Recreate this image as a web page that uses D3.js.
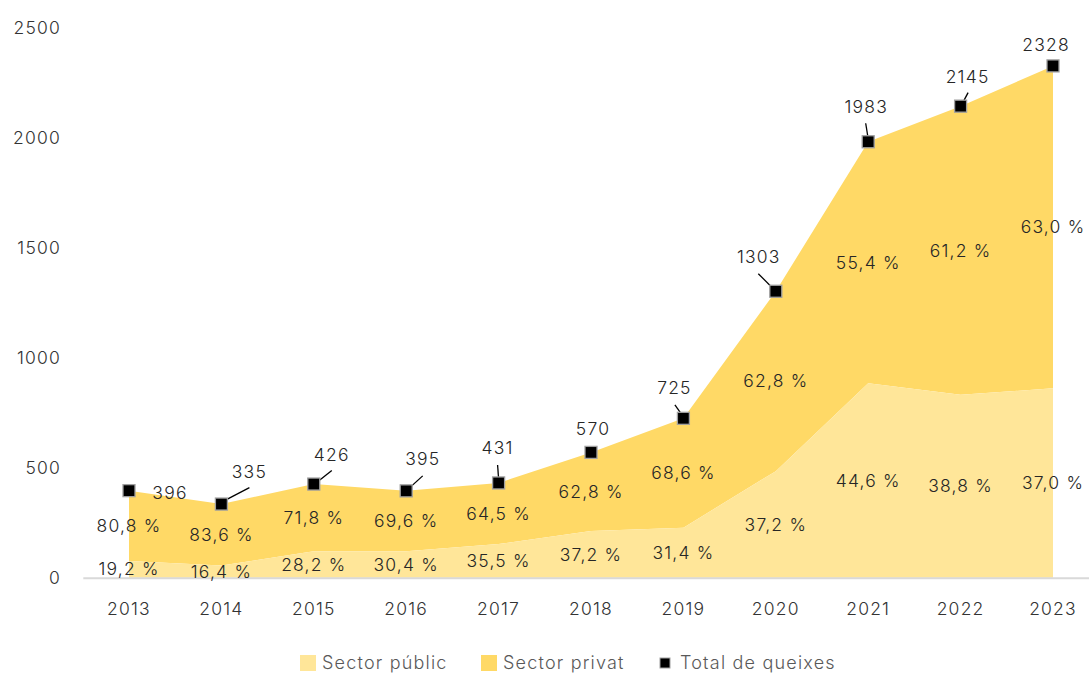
<!DOCTYPE html>
<html>
<head>
<meta charset="utf-8">
<script src="https://cdn.jsdelivr.net/npm/d3@7"></script>
<style>
  body { margin: 0; background: #fff; }
  text { font-family: Inter, "Liberation Sans", sans-serif; font-weight: 300; letter-spacing: 1.2px; }
</style>
</head>
<body>
<svg id="chart" width="1089" height="673"></svg>
<script>
const years = ["2013","2014","2015","2016","2017","2018","2019","2020","2021","2022","2023"];
const totals = [396, 335, 426, 395, 431, 570, 725, 1303, 1983, 2145, 2328];
const publicPct = [19.2, 16.4, 28.2, 30.4, 35.5, 37.2, 31.4, 37.2, 44.6, 38.8, 37.0];
const privatePct = [80.8, 83.6, 71.8, 69.6, 64.5, 62.8, 68.6, 62.8, 55.4, 61.2, 63.0];
const yTicks = [0, 500, 1000, 1500, 2000, 2500];

// where each total label sits relative to its marker, plus optional leader line
const totalLabelPos = [
  {dx: 41, dy: 8},
  {dx: 28, dy: -26, line: [5, -4.5, 28, -16.5]},
  {dx: 18, dy: -23, line: [6, -4, 18, -13.5]},
  {dx: 16.5, dy: -25.5, line: [5.5, -5, 16.5, -15]},
  {dx: -1, dy: -28.5, line: [-1, -18, 0, -4]},
  {dx: 2, dy: -17},
  {dx: -9, dy: -24, line: [-8.5, -13.5, -2.5, -5]},
  {dx: -17, dy: -28.5, line: [-17.5, -17.5, -4.5, -4.5]},
  {dx: -2, dy: -29, line: [-2.5, -18.5, -0.5, -6]},
  {dx: 7, dy: -23.5, line: [7.5, -13.5, 3.5, -6]},
  {dx: -7, dy: -14.5}
];

const colPublic = "#ffe699";
const colPrivat = "#ffd966";
const fontSize = 17.5;

const svg = d3.select("#chart");
const data = years.map((y, i) => ({
  year: y,
  total: totals[i],
  pub: totals[i] * publicPct[i] / 100,
  pubPct: publicPct[i],
  privPct: privatePct[i]
}));

const xBand = d3.scaleBand().domain(years).range([82.8, 1099.2]).padding(0);
const x = d => xBand(d) + xBand.bandwidth() / 2;
const y = d3.scaleLinear().domain([0, 2500]).range([577.7, 28.1]);

const locale = d3.formatLocale({decimal: ",", thousands: ".", grouping: [3], currency: ["", "€"]});
const pctFmt = v => locale.format(".1f")(v) + " %";

// areas
svg.append("path").datum(data)
  .attr("fill", colPrivat)
  .attr("d", d3.area().x(d => x(d.year)).y0(d => y(d.pub)).y1(d => y(d.total)));
svg.append("path").datum(data)
  .attr("fill", colPublic)
  .attr("d", d3.area().x(d => x(d.year)).y0(y(0)).y1(d => y(d.pub)));

// x axis
const xAxis = svg.append("g")
  .attr("transform", `translate(0,${y(0)})`)
  .call(d3.axisBottom(xBand).tickSize(0).tickSizeOuter(0).tickPadding(25));
xAxis.select(".domain").attr("stroke", "#d9d9d9").attr("stroke-width", 2);
xAxis.selectAll("text").attr("font-size", fontSize).attr("fill", "#333")
  .attr("font-family", "Inter, 'Liberation Sans', sans-serif");

// y axis labels
const yAxis = svg.append("g")
  .attr("transform", "translate(61,0)")
  .call(d3.axisLeft(y).tickValues(yTicks).tickSize(0).tickPadding(0).tickFormat(d3.format("d")));
yAxis.select(".domain").remove();
yAxis.selectAll("text").attr("font-size", fontSize).attr("fill", "#333")
  .attr("font-family", "Inter, 'Liberation Sans', sans-serif");

// percentage labels
svg.append("g").selectAll("text").data(data).enter().append("text")
  .attr("x", d => x(d.year))
  .attr("y", d => y((d.pub + d.total) / 2))
  .attr("dy", "0.35em")
  .attr("text-anchor", "middle")
  .attr("font-size", fontSize).attr("fill", "#262626")
  .text(d => pctFmt(d.privPct));
svg.append("g").selectAll("text").data(data).enter().append("text")
  .attr("x", d => x(d.year))
  .attr("y", d => y(d.pub / 2))
  .attr("dy", "0.35em")
  .attr("text-anchor", "middle")
  .attr("font-size", fontSize).attr("fill", "#262626")
  .text(d => pctFmt(d.pubPct));

// leader lines
svg.append("g").selectAll("line").data(data.filter((d, i) => totalLabelPos[i].line))
  .enter().append("line")
  .each(function(d) {
    const p = totalLabelPos[years.indexOf(d.year)].line;
    d3.select(this)
      .attr("x1", x(d.year) + p[0]).attr("y1", y(d.total) + p[1])
      .attr("x2", x(d.year) + p[2]).attr("y2", y(d.total) + p[3]);
  })
  .attr("stroke", "#000").attr("stroke-width", 1.3);

// markers
svg.append("g").selectAll("rect").data(data).enter().append("rect")
  .attr("x", d => x(d.year) - 6)
  .attr("y", d => y(d.total) - 6)
  .attr("width", 12).attr("height", 12)
  .attr("fill", "#000").attr("stroke", "#a0a0a0").attr("stroke-width", 1.3);

// total labels
svg.append("g").selectAll("text").data(data).enter().append("text")
  .attr("x", (d, i) => x(d.year) + totalLabelPos[i].dx)
  .attr("y", (d, i) => y(d.total) + totalLabelPos[i].dy)
  .attr("text-anchor", "middle")
  .attr("font-size", fontSize).attr("fill", "#262626")
  .text(d => d.total);

// legend
const legend = svg.append("g").attr("transform", "translate(0,663)");
const items = [
  {label: "Sector públic", x: 300, type: "area", color: colPublic},
  {label: "Sector privat", x: 481, type: "area", color: colPrivat},
  {label: "Total de queixes", x: 660, type: "marker"}
];
items.forEach(it => {
  if (it.type === "area") {
    legend.append("rect").attr("x", it.x).attr("y", -8).attr("width", 16).attr("height", 16).attr("fill", it.color);
  } else {
    legend.append("rect").attr("x", it.x).attr("y", -5).attr("width", 10).attr("height", 10)
      .attr("fill", "#000").attr("stroke", "#a0a0a0").attr("stroke-width", 1);
  }
  legend.append("text")
    .attr("x", it.x + (it.type === "area" ? 22 : 20))
    .attr("y", 0).attr("dy", "0.35em")
    .attr("font-size", 18).attr("fill", "#595959")
    .text(it.label);
});
</script>
</body>
</html>
